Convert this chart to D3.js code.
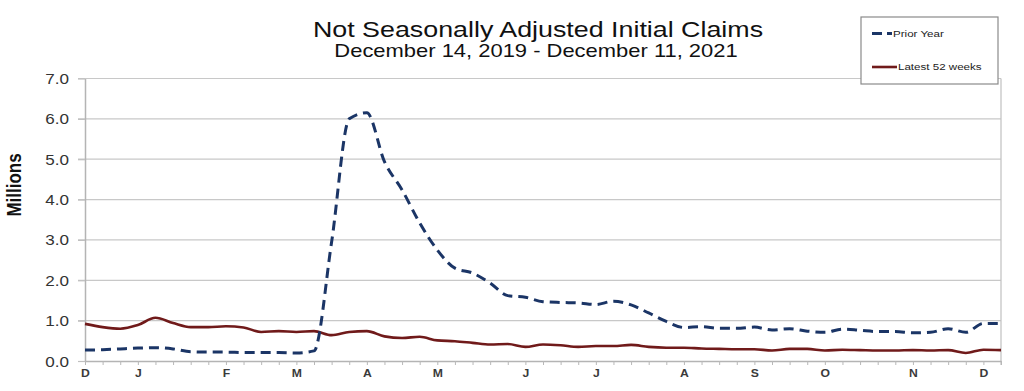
<!DOCTYPE html>
<html>
<head>
<meta charset="utf-8">
<script src="https://cdn.jsdelivr.net/npm/d3@7"></script>
<style>
  html, body { margin: 0; padding: 0; background: #fff; }
  svg { display: block; }
  text { font-family: "Liberation Sans", Arial, sans-serif; }
</style>
</head>
<body>
<svg id="chart" width="1024" height="391"></svg>
<script>
// ---- data (millions of claims, weekly) ----
const priorYear = [0.27,0.28,0.30,0.32,0.33,0.30,0.23,0.22,0.22,0.21,0.21,0.21,0.20,0.25,2.95,6.00,6.15,4.94,4.24,3.42,2.75,2.30,2.18,1.93,1.62,1.58,1.47,1.45,1.44,1.40,1.48,1.39,1.19,0.98,0.83,0.85,0.81,0.81,0.84,0.77,0.80,0.74,0.71,0.79,0.76,0.73,0.73,0.70,0.71,0.80,0.71,0.93,0.93];
const latest52 = [0.92,0.84,0.80,0.89,1.07,0.94,0.84,0.84,0.86,0.83,0.72,0.74,0.72,0.74,0.64,0.72,0.74,0.61,0.57,0.60,0.51,0.49,0.45,0.41,0.42,0.35,0.41,0.39,0.35,0.37,0.37,0.40,0.35,0.33,0.33,0.31,0.30,0.29,0.29,0.26,0.30,0.30,0.26,0.28,0.27,0.26,0.26,0.27,0.26,0.27,0.20,0.28,0.27];
const monthLabels = ["D","J","F","M","A","M","J","J","A","S","O","N","D"];
const monthWeek = [0,3,8,12,16,20,25,29,34,38,42,47,51];
const yTicks = [0,1,2,3,4,5,6,7];
const seriesNames = ["Prior Year","Latest 52 weeks"];
const titleText = "Not Seasonally Adjusted Initial Claims";
const subtitleText = "December 14, 2019 - December 11, 2021";
const yTitle = "Millions";

(function() {
// ---- layout ----
const SX = 1.22; // horizontal text stretch of the original
const pLeft = 85, pRight = 1001, pTop = 78.5, pBottom = 361;
const svg = d3.select("#chart");
svg.append("rect").attr("width",1024).attr("height",391).attr("fill","#fff");

const x = d3.scaleLinear().domain([0, priorYear.length - 1]).range([pLeft, pRight]);
const y = d3.scaleLinear().domain([0, 7]).range([pBottom, pTop]);

function stretchedText(g, tx, ty, str, extra) {
  return g.append("text")
    .attr("transform", `translate(${tx},${ty}) scale(${SX},1)` + (extra || ""))
    .text(str);
}

// gridlines
svg.append("g").selectAll("line").data(yTicks.slice(1)).join("line")
  .attr("x1", pLeft - 7).attr("x2", pRight)
  .attr("y1", d => y(d)).attr("y2", d => y(d))
  .attr("stroke", "#c8c8c8").attr("stroke-width", 1.2);

// right border
svg.append("line").attr("x1", pRight).attr("x2", pRight).attr("y1", pTop).attr("y2", pBottom + 4)
  .attr("stroke", "#c0c0c0").attr("stroke-width", 1.2);

// y axis
const yAxis = svg.append("g").attr("transform", `translate(${pLeft},0)`)
  .call(d3.axisLeft(y).tickValues(yTicks).tickFormat(d3.format(".1f")).tickSize(7).tickSizeOuter(0));
yAxis.select(".domain").attr("stroke", "#b4b4b4").attr("stroke-width", 1.5);
yAxis.selectAll(".tick line").attr("stroke", "#c0c0c0").attr("stroke-width", 1.2);
yAxis.selectAll(".tick text")
  .attr("x", -16 / SX).attr("dy", "0.36em")
  .attr("transform", `scale(${SX},1)`)
  .attr("font-size", 14).attr("fill", "#333")
  .attr("font-family", "'Liberation Sans', Arial, sans-serif");

// x axis
const labelMap = new Map(monthWeek.map((w, i) => [w, monthLabels[i]]));
const xAxis = svg.append("g").attr("transform", `translate(0,${pBottom})`)
  .call(d3.axisBottom(x).tickValues(d3.range(priorYear.length)).tickSize(4).tickSizeOuter(0)
    .tickFormat(i => labelMap.get(i) || ""));
xAxis.select(".domain").attr("stroke", "#b4b4b4").attr("stroke-width", 1.5);
xAxis.selectAll(".tick line").attr("stroke", "#b8b8b8").attr("stroke-width", 1);
xAxis.selectAll(".tick text")
  .attr("y", 9).attr("dy", "0.71em")
  .attr("transform", `scale(${SX},1)`)
  .attr("x", 0)
  .attr("font-size", 10).attr("font-weight", "bold").attr("fill", "#3a3a3a")
  .attr("font-family", "'Liberation Sans', Arial, sans-serif");

// lines
const line = d3.line().x((d, i) => x(i)).y(d => y(d)).curve(d3.curveMonotoneX);
svg.append("path").datum(latest52).attr("d", line)
  .attr("fill", "none").attr("stroke", "#701a1a").attr("stroke-width", 2.6);
svg.append("path").datum(priorYear).attr("d", line)
  .attr("fill", "none").attr("stroke", "#1b3566").attr("stroke-width", 3)
  .attr("stroke-dasharray", "10,6");

// titles
const titles = svg.append("g").attr("text-anchor", "middle").attr("fill", "#111");
stretchedText(titles, 538, 36.5, titleText).attr("font-size", 22);
stretchedText(titles, 536, 56.5, subtitleText).attr("font-size", 18);

// y axis title
stretchedText(svg, 21, 185, yTitle, " rotate(-90)")
  .attr("text-anchor", "middle").attr("font-size", 17).attr("font-weight", "bold").attr("fill", "#111");

// legend
const lg = svg.append("g");
lg.append("rect").attr("x", 861).attr("y", 17).attr("width", 137).attr("height", 67)
  .attr("fill", "#fff").attr("stroke", "#8a8a8a").attr("stroke-width", 1.2);
const legendItems = [
  { name: seriesNames[0], color: "#1b3566", dash: "10,5,5,50", w: 3, cy: 33.5, x2: 892, tx: 893 },
  { name: seriesNames[1], color: "#701a1a", dash: null, w: 2.6, cy: 67, x2: 897, tx: 898 }
];
legendItems.forEach(it => {
  lg.append("line").attr("x1", 872).attr("x2", it.x2).attr("y1", it.cy).attr("y2", it.cy)
    .attr("stroke", it.color).attr("stroke-width", it.w)
    .attr("stroke-dasharray", it.dash);
  stretchedText(lg, it.tx, it.cy + 3.4, it.name).attr("font-size", 9.5).attr("fill", "#222");
});
})();
</script>
</body>
</html>
